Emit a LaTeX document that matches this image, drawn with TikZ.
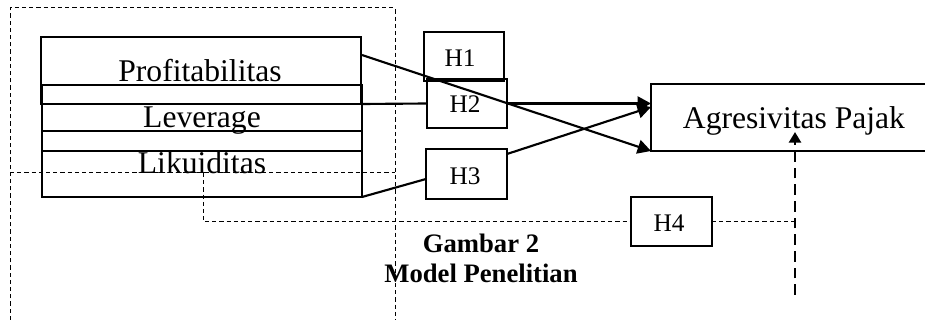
\documentclass[tikz,border=0pt]{standalone}
\usepackage{fontspec}
\setmainfont{Liberation Serif}
\usetikzlibrary{arrows.meta,calc}
\begin{document}
\begin{tikzpicture}[x=0.75pt,y=-0.75pt,
  box/.style={draw, line width=1.3pt, inner sep=0pt, outer sep=0pt},
  bigtxt/.style={font=\fontsize{23.7}{28}\selectfont, inner sep=0pt, anchor=base},
  hbox/.style={box, minimum width=60pt, minimum height=36.75pt},
  htxt/.style={font=\fontsize{19}{21}\selectfont, inner sep=0pt, anchor=base},
  conn/.style={line width=1.6pt},
  arr/.style={conn, -{Triangle[length=10pt,width=10.5pt]}},
  thindash/.style={line width=0.75pt, dash pattern=on 3.2pt off 2.2pt},
  thickdash/.style={line width=2.2pt, dash pattern=on 8pt off 4.5pt, -{Triangle[length=8pt,width=9pt]}}]
\useasboundingbox (0,0) rectangle (925,320);
% dashed frame
\draw[thindash] (10,320) -- (10,8) -- (395,8) -- (395,320);
\draw[thindash] (10,173) -- (395,173);
% stacked variable boxes
\node[box, minimum width=240pt, minimum height=50.25pt] (p1) at (201,70.5) {};
\node[box, line width=2pt, minimum width=240pt, minimum height=14.25pt] (b2) at (202,94.5) {};
\node[box, minimum width=240pt, minimum height=20.25pt] (lev) at (202,117.5) {};
\node[box, line width=1.6pt, minimum width=240pt, minimum height=15pt] (b4) at (202,141) {};
\node[box, minimum width=240pt, minimum height=34.5pt] (lik) at (202,174) {};
\node[bigtxt] (tp) at (200,82) {Profitabilitas};
\node[bigtxt] (tl) at (202,128) {Leverage};
\node[bigtxt] (tk) at (202,174) {Likuiditas};
% dependent variable
\node[box, minimum width=214.5pt, minimum height=50.25pt] (ag) at (794,117.5) {};
\node[bigtxt] (agt) at (794,129) {Agresivitas Pajak};
% hypothesis boxes
\node[hbox] (h1) at (464,56.5) {};
\node[hbox] (h2) at (467,103.5) {};
\node[hbox, minimum width=60.75pt, minimum height=37.5pt] (h3) at (466.5,174) {};
\node[hbox, minimum width=60.75pt] (h4) at (671.5,221.5) {};
\node[htxt] (h1t) at (460,67) {H1};
\node[htxt] (h2t) at (465,113) {H2};
\node[htxt] (h3t) at (465,185) {H3};
\node[htxt] (h4t) at (669,232) {H4};
% connectors
\draw[arr] ($(p1.east)+(1,-15.5)$) -- (ag.south west);
\draw[conn] (b2.south east) -- (h2.west);
\draw[arr] (h2.east) -- (h2.east -| ag.west);
\draw[conn] (lik.south east) -- ($(h3.west)+(0,5)$);
\draw[arr] ($(h3.north east)+(0,5)$) -- ($(ag.west)+(0,-10.5)$);
% moderation (dashed)
\coordinate (d0) at (203,173);
\coordinate (d1) at (795,221.5);
\coordinate (d2) at (795,295);
\draw[thindash] (d0) |- (h4.west);
\draw[thindash] (h4.east) -- (d1);
\draw[thickdash] (d2) -- ($(ag.south)+(1,-19)$);
% caption
\node[font=\bfseries\fontsize{20}{22.5}\selectfont, align=center, inner sep=0pt, anchor=base] (cap) at (481,283) {Gambar 2\\Model Penelitian};
\end{tikzpicture}
\end{document}
